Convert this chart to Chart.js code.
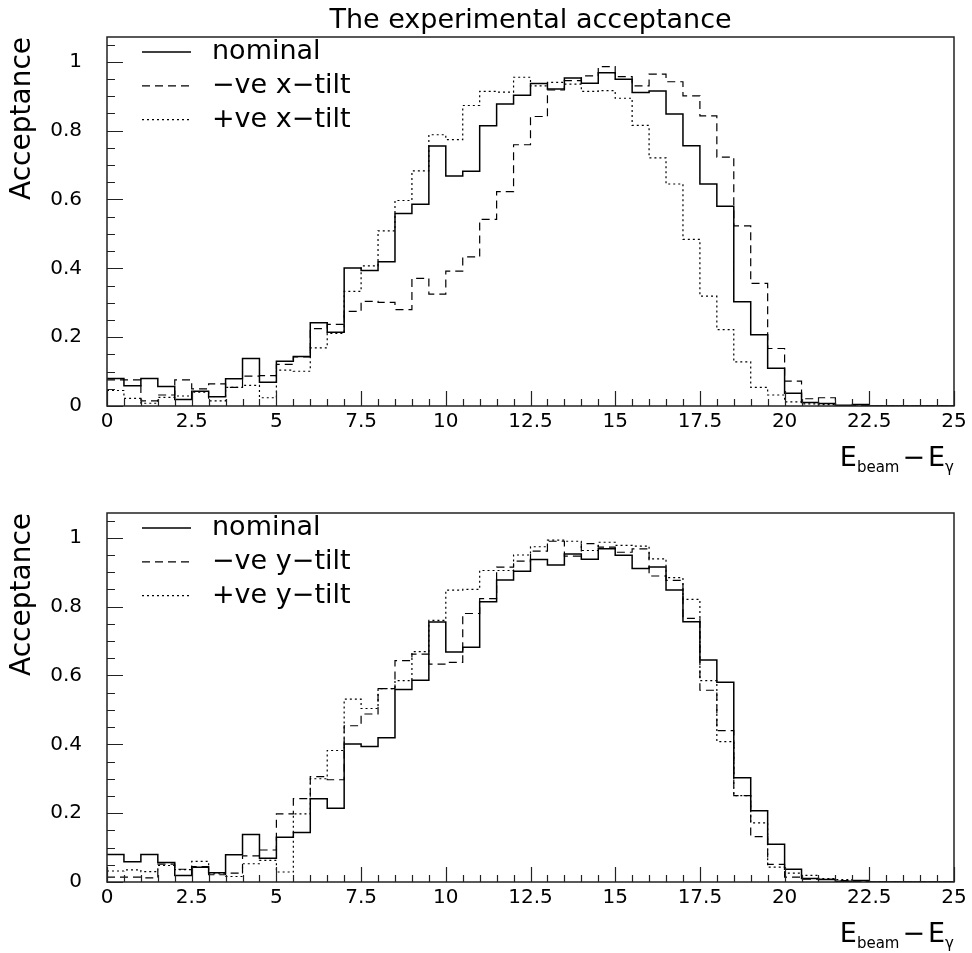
<!DOCTYPE html>
<html>
<head>
<meta charset="utf-8">
<title>The experimental acceptance</title>
<script src="https://cdn.jsdelivr.net/npm/chart.js@4.4.1/dist/chart.umd.min.js"></script>
<style>
    html, body { margin: 0; padding: 0; background: #fff; }
    #wrap { position: relative; width: 972px; height: 953px; }
    .panel { position: absolute; left: 0; }
</style>
</head>
<body>
<div id="wrap">
    <canvas id="accX" class="panel" style="top:0" width="972" height="476"></canvas>
    <canvas id="accY" class="panel" style="top:476px" width="972" height="477"></canvas>
</div>
<script>
"use strict";

// bin edges of the histograms (50 bins of 0.5)
const binEdges = [
    0, 0.5, 1, 1.5, 2, 2.5, 3, 3.5, 4, 4.5, 5, 5.5, 6, 6.5, 7, 7.5, 8, 8.5, 9, 9.5,
    10, 10.5, 11, 11.5, 12, 12.5, 13, 13.5, 14, 14.5, 15, 15.5, 16, 16.5, 17, 17.5,
    18, 18.5, 19, 19.5, 20, 20.5, 21, 21.5, 22, 22.5, 23, 23.5, 24, 24.5, 25
];

const xTickValues = [0, 2.5, 5, 7.5, 10, 12.5, 15, 17.5, 20, 22.5, 25];
const yTickValues = [0, 0.2, 0.4, 0.6, 0.8, 1];

const nominal = [
    0.080, 0.059, 0.080, 0.057, 0.019, 0.043, 0.027, 0.079, 0.138, 0.069,
    0.130, 0.144, 0.242, 0.214, 0.401, 0.394, 0.419, 0.559, 0.586, 0.755,
    0.668, 0.682, 0.814, 0.877, 0.903, 0.937, 0.921, 0.953, 0.938, 0.968,
    0.949, 0.911, 0.915, 0.848, 0.756, 0.645, 0.580, 0.303, 0.207, 0.110,
    0.037, 0.010, 0.007, 0.002, 0.004, 0, 0, 0, 0, 0
];

const negXTilt = [
    0.076, 0.076, 0.015, 0.032, 0.076, 0.050, 0.064, 0.054, 0.087, 0.088,
    0.121, 0.143, 0.225, 0.237, 0.275, 0.304, 0.301, 0.280, 0.371, 0.325,
    0.392, 0.433, 0.542, 0.623, 0.759, 0.841, 0.918, 0.945, 0.959, 0.986,
    0.957, 0.930, 0.964, 0.942, 0.901, 0.843, 0.723, 0.523, 0.356, 0.167,
    0.072, 0.021, 0.024, 0.001, 0.001, 0, 0, 0, 0, 0
];

const posXTilt = [
    0.045, 0.022, 0.008, 0.025, 0.029, 0.040, 0.015, 0.054, 0.060, 0.024,
    0.104, 0.101, 0.169, 0.211, 0.333, 0.407, 0.509, 0.597, 0.683, 0.788,
    0.774, 0.873, 0.914, 0.912, 0.955, 0.930, 0.940, 0.935, 0.914, 0.916,
    0.894, 0.815, 0.721, 0.645, 0.484, 0.319, 0.222, 0.128, 0.054, 0.032,
    0.012, 0.006, 0.004, 0, 0, 0, 0, 0, 0, 0
];

const negYTilt = [
    0.014, 0.014, 0.012, 0.052, 0.037, 0.045, 0.021, 0.026, 0.076, 0.093,
    0.198, 0.242, 0.306, 0.297, 0.454, 0.488, 0.562, 0.643, 0.662, 0.633,
    0.638, 0.780, 0.823, 0.915, 0.932, 0.961, 0.990, 0.947, 0.983, 0.973,
    0.958, 0.968, 0.889, 0.876, 0.766, 0.557, 0.440, 0.251, 0.132, 0.051,
    0.014, 0.008, 0.008, 0.004, 0.002, 0, 0, 0, 0, 0
];

const posYTilt = [
    0.032, 0.035, 0.030, 0.048, 0.036, 0.060, 0.024, 0.016, 0.053, 0.063,
    0.029, 0.198, 0.300, 0.382, 0.531, 0.504, 0.562, 0.585, 0.669, 0.760,
    0.848, 0.850, 0.905, 0.905, 0.950, 0.974, 0.993, 0.990, 0.963, 0.987,
    0.978, 0.976, 0.939, 0.884, 0.821, 0.585, 0.408, 0.251, 0.172, 0.043,
    0.026, 0.019, 0.010, 0.007, 0.003, 0, 0, 0, 0, 0
];

const FONT = "'DejaVu Sans', 'Liberation Sans', sans-serif";
const Y_MAX = 1.072;

// one step line per histogram, points sit on the low edge of each bin
const histogram = (label, values, dash, width) => ({
    label:       label,
    data:        binEdges.map((x, i) => ({x: x, y: values[Math.min(i, values.length - 1)]})),
    borderColor: "#000",
    borderWidth: width,
    borderDash:  dash,
    stepped:     "before",
    pointRadius: 0,
    fill:        false
});

// frame + inward ticks, the way the original package draws them
const frameTicks = {
    id: "frameTicks",
    afterDatasetsDraw(chart) {
        const {ctx, chartArea} = chart;
        const xs = chart.scales.x;
        const ys = chart.scales.y;

        ctx.save();
        ctx.strokeStyle = "#222";
        ctx.lineWidth   = 1.5;
        ctx.strokeRect(chartArea.left, chartArea.top, chartArea.right - chartArea.left, chartArea.bottom - chartArea.top);

        ctx.lineWidth = 1.2;
        ctx.beginPath();
        binEdges.forEach(v => {
            const px  = Math.round(xs.getPixelForValue(v)) + 0.5;
            const len = xTickValues.includes(v) ? 15 : 7;
            ctx.moveTo(px, chartArea.bottom);
            ctx.lineTo(px, chartArea.bottom - len);
        });
        for (let k = 0; k * 0.05 < Y_MAX; k++)
        {
            const py  = Math.round(ys.getPixelForValue(k * 0.05)) + 0.5;
            const len = (k % 4 === 0) ? 16 : 8;
            ctx.moveTo(chartArea.left, py);
            ctx.lineTo(chartArea.left + len, py);
        }
        ctx.stroke();
        ctx.restore();
    }
};

const frameLegend = {
    id: "frameLegend",
    afterDatasetsDraw(chart) {
        const {ctx, chartArea} = chart;

        chart.data.datasets.forEach((ds, i) => {
            const y = chartArea.top + 15 + i * 33.8;

            ctx.save();
            ctx.strokeStyle = ds.borderColor;
            ctx.lineWidth   = ds.borderWidth;
            ctx.setLineDash(ds.borderDash || []);
            ctx.beginPath();
            ctx.moveTo(chartArea.left + 35, y);
            ctx.lineTo(chartArea.left + 84, y);
            ctx.stroke();
            ctx.setLineDash([]);
            ctx.fillStyle    = "#000";
            ctx.font         = "27px " + FONT;
            ctx.textBaseline = "middle";
            ctx.fillText(ds.label, chartArea.left + 105, y);
            ctx.restore();
        });
    }
};

// E_beam - E_gamma, with subscripts
const xTitle = {
    id: "xTitle",
    afterDraw(chart) {
        const ctx   = chart.ctx;
        const base  = chart.chartArea.bottom + 60;
        const parts = [
            {text: "E",      size: 27, dy: 0, gap: 0},
            {text: "beam",   size: 15, dy: 6, gap: 3},
            {text: "\u2212", size: 27, dy: 0, gap: 3},
            {text: "E",      size: 27, dy: 0, gap: 0},
            {text: "\u03b3", size: 15, dy: 6, gap: 0}
        ];

        ctx.save();
        ctx.fillStyle    = "#000";
        ctx.textBaseline = "alphabetic";
        let total = 0;
        parts.forEach(p => {
            ctx.font = p.size + "px " + FONT;
            p.width  = ctx.measureText(p.text).width;
            total += p.width + p.gap;
        });
        let x = chart.chartArea.right - total;
        parts.forEach(p => {
            ctx.font = p.size + "px " + FONT;
            ctx.fillText(p.text, x, base + p.dy);
            x += p.width + p.gap;
        });
        ctx.restore();
    }
};

const makeScales = xHeight => ({
    x: {
        type:            "linear",
        min:             0,
        max:             25,
        afterBuildTicks: scale => { scale.ticks = xTickValues.map(v => ({value: v})); },
        afterFit:        scale => { scale.height = xHeight; },
        grid:            {display: false, drawTicks: false},
        border:          {display: false},
        ticks:           {
            padding:     4,
            color:       "#000",
            autoSkip:    false,
            maxRotation: 0,
            font:        {family: FONT, size: 20},
            callback:    value => String(value)
        }
    },
    y: {
        type:            "linear",
        min:             0,
        max:             Y_MAX,
        afterBuildTicks: scale => { scale.ticks = yTickValues.map(v => ({value: v})); },
        afterFit:        scale => { scale.width = 107; },
        grid:            {display: false, drawTicks: false},
        border:          {display: false},
        ticks:           {
            padding:  25,
            color:    "#000",
            font:     {family: FONT, size: 20},
            callback: value => String(value)
        },
        title:           {
            display: true,
            text:    "Acceptance",
            align:   "end",
            color:   "#000",
            font:    {family: FONT, size: 28},
            padding: {top: 6, bottom: 0}
        }
    }
});

const makePanel = (canvasId, series, withTitle) => new Chart(document.getElementById(canvasId).getContext("2d"), {
    type:    "line",
    data:    {datasets: series},
    options: {
        responsive:          false,
        maintainAspectRatio: false,
        animation:           false,
        layout:              {padding: {top: withTitle ? 0 : 36, right: 18, left: 0, bottom: 0}},
        scales:              makeScales(withTitle ? 70 : 71),
        plugins:             {
            legend:  {display: false},
            tooltip: {enabled: false},
            title:   {
                display:   withTitle,
                text:      "The experimental acceptance",
                fullSize:  false,
                color:     "#000",
                font:      {family: FONT, size: 27, weight: "normal"},
                padding:   {top: 3.6, bottom: 0}
            }
        }
    },
    plugins: [frameTicks, frameLegend, xTitle]
});

makePanel("accX", [
    histogram("nominal", nominal, [], 1.5),
    histogram("\u2212ve x\u2212tilt", negXTilt, [8, 5], 1.2),
    histogram("+ve x\u2212tilt", posXTilt, [2, 3], 1.2)
], true);

makePanel("accY", [
    histogram("nominal", nominal, [], 1.5),
    histogram("\u2212ve y\u2212tilt", negYTilt, [8, 5], 1.2),
    histogram("+ve y\u2212tilt", posYTilt, [2, 3], 1.2)
], false);
</script>
</body>
</html>
